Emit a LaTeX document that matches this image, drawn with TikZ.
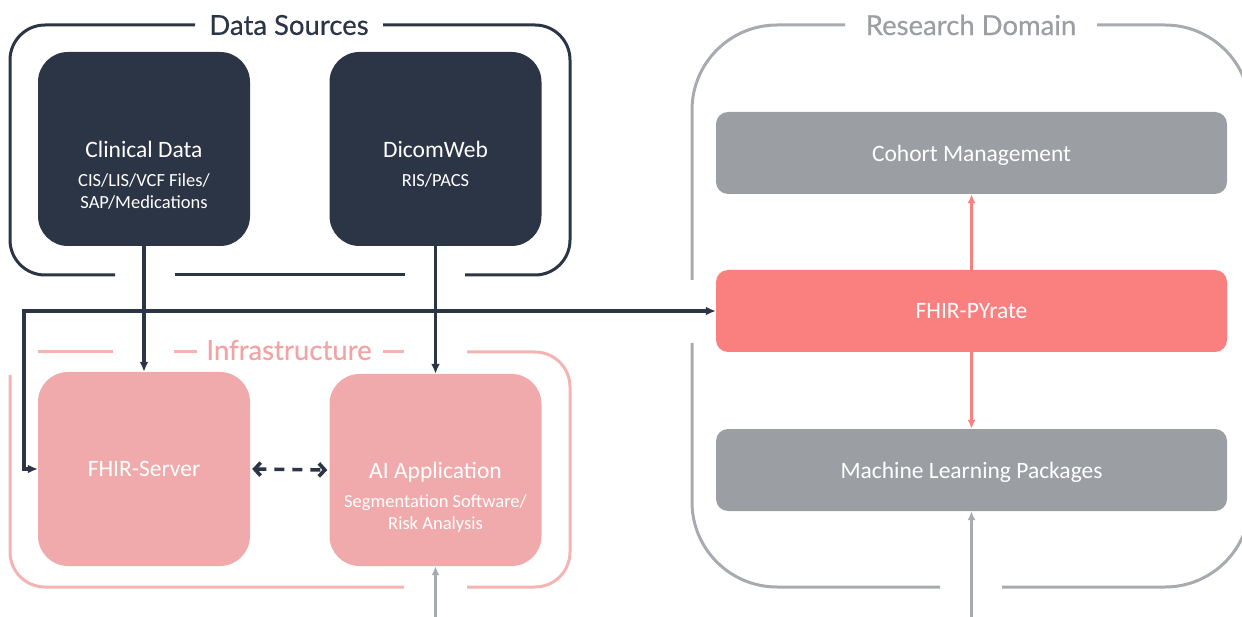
\documentclass[tikz,border=0pt]{standalone}
\usepackage{fontspec}
\setmainfont{Carlito}
\newfontfamily\titlefont[FakeBold=0.5]{Lato}
\usetikzlibrary{arrows.meta, positioning}
\definecolor{navy}{HTML}{2C3546}
\definecolor{rose}{HTML}{F0AAAB}
\definecolor{roseline}{HTML}{F4B4B4}
\definecolor{rosetext}{HTML}{F2A3A3}
\definecolor{salmon}{HTML}{FA8080}
\definecolor{slate}{HTML}{9B9EA3}
\definecolor{slateline}{HTML}{A7AAAE}

\begin{document}
\begin{tikzpicture}[x=1pt, y=-1pt,
  bigbox/.style={rounded corners=30pt, minimum width=212pt, minimum height=194pt, text=white, text depth=0pt, inner sep=0pt, font=\fontsize{23.5}{28}\selectfont},
  widebox/.style={rounded corners=12pt, minimum width=511pt, minimum height=82pt, text=white, text depth=0pt, inner sep=0pt, font=\fontsize{23.5}{28}\selectfont},
  subtext/.style={text=white, align=center, inner sep=0pt, font=\fontsize{18.5}{22.5}\selectfont},
  grouptitle/.style={inner sep=0pt, font=\titlefont\fontsize{27.5}{32}\selectfont},
  groupline/.style={line width=3pt},
  dataedge/.style={navy, line width=3.4pt},
  tipdark/.tip={Latex[length=10pt, width=9pt]},
  tipsoft/.tip={Latex[length=9pt, width=8pt]}]
  \useasboundingbox (0,0) rectangle (1242,617);
  \clip (0,0) rectangle (1242,617);

  % Data Sources
  \node[bigbox, fill=navy] (clin) at (144,149) {Clinical Data};
  \node[subtext, below=24pt of clin.center] (clinsub) {CIS/LIS/VCF Files/\\SAP/Medications};
  \node[bigbox, fill=navy] (dicom) at (435.5,149) {DicomWeb};
  \node[subtext, below=24pt of dicom.center] (dicomsub) {RIS/PACS};
  \node[grouptitle, navy] (dstitle) at (289,25) {Data Sources};
  \draw[groupline, navy, rounded corners=35pt] (195,25) -- (10,25) -- (10,275) -- (115,275);
  \draw[groupline, navy] (175,275) -- (405,275);
  \draw[groupline, navy, rounded corners=35pt] (465,275) -- (570,275) -- (570,25) -- (383,25);

  % Infrastructure
  \node[bigbox, fill=rose] (fhir) at (144,469) {FHIR-Server};
  \node[bigbox, fill=rose, minimum height=192pt] (ai) at (435.5,470) {AI Application};
  \node[subtext, below=24pt of ai.center] (aisub) {Segmentation Software/\\Risk Analysis};
  \node[grouptitle, rosetext] (intitle) at (289,350) {Infrastructure};
  \draw[groupline, roseline] (38,352) -- (113,352);
  \draw[groupline, roseline] (174,352) -- (197,352);
  \draw[groupline, roseline] (383,352) -- (404,352);
  \draw[groupline, roseline, rounded corners=35pt] (467,352) -- (570,352) -- (570,587) -- (467,587);
  \draw[groupline, roseline, rounded corners=35pt] (404,587) -- (10,587) -- (10,375);

  % Research Domain
  \node[widebox, fill=slate] (cohort) at (971.5,153) {Cohort Management};
  \node[widebox, fill=salmon] (pyrate) at (971.5,311) {FHIR-PYrate};
  \node[widebox, fill=slate] (ml) at (971.5,470) {Machine Learning Packages};
  \node[grouptitle, slate] (rdtitle) at (971,25) {Research Domain};
  \draw[groupline, slateline, rounded corners=85pt] (845,25) -- (692,25) -- (692,280);
  \draw[groupline, slateline, rounded corners=85pt] (692,343) -- (692,587) -- (940,587);
  \draw[groupline, slateline, rounded corners=85pt] (1002,587) -- (1250,587) -- (1250,25) -- (1097,25);

  % connectors
  \draw[dataedge, -tipdark] (clin.south) -- (fhir.north);
  \draw[dataedge, -tipdark] (dicom.south) -- (ai.north);
  \draw[dataedge, tipdark-tipdark] (fhir.west) -- ++(-14,0) |- (pyrate.west);
  \draw[navy, line width=3.6pt, dash pattern=on 10pt off 8pt,
    {Straight Barb[length=6pt, width=13pt]}-{Straight Barb[length=6pt, width=13pt]}]
    ([xshift=2pt]fhir.east) -- ([xshift=-2pt]ai.west);
  \draw[salmon, line width=2.6pt, -tipsoft] (pyrate.north) -- (cohort.south);
  \draw[salmon, line width=2.6pt, -tipsoft] (pyrate.south) -- (ml.north);
  \coordinate (aiin) at (435.5,617);
  \coordinate (mlin) at (971.5,617);
  \draw[slateline, line width=3pt, -tipsoft] (aiin) -- (ai.south);
  \draw[slateline, line width=3pt, -tipsoft] (mlin) -- (ml.south);
\end{tikzpicture}
\end{document}
